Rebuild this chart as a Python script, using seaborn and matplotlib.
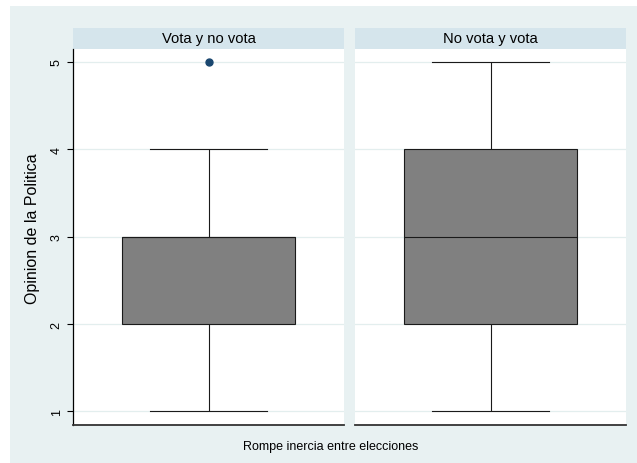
import numpy as np
import pandas as pd
import matplotlib
matplotlib.use("Agg")
import matplotlib.pyplot as plt
import seaborn as sns
from matplotlib.patches import Rectangle

# ---- data ----
panels = ["Vota y no vota", "No vota y vota"]
opinion_levels = [1, 2, 3, 4, 5]
counts_vota_no = [1, 3, 4, 1, 1]     # -> whisker 1, box 2-3, median 3, outlier 5
counts_no_vota = [1, 2, 3, 2, 1]     # -> whisker 1-5, box 2-4, median 3
y_ticks = [1, 2, 3, 4, 5]
x_title = "Rompe inercia entre elecciones"
y_title = "Opinion de la Politica"

df = pd.DataFrame({
    "grupo": np.repeat(panels, [sum(counts_vota_no), sum(counts_no_vota)]),
    "opinion": np.concatenate([np.repeat(opinion_levels, counts_vota_no),
                               np.repeat(opinion_levels, counts_no_vota)]),
})

plt.rcParams["font.family"] = ["Liberation Sans", "DejaVu Sans"]

W, H = 637, 464
fig = plt.figure(figsize=(W / 100, H / 100), dpi=100)
fig.patch.set_facecolor("white")

def fx(px):
    return px / W

def fy(py):
    return 1 - py / H

# outer graph region
fig.add_artist(Rectangle((fx(10), 0), 1 - fx(10), fy(7), transform=fig.transFigure,
                         facecolor="#e8f1f2", edgecolor="none", zorder=-10))

plot_top, plot_bot = 50, 425.5
strip_top = 29
panel_x = [(73, 344), (355, 626)]
ymin, ymax = 0.851, 5.149

for i, (p, (x0, x1)) in enumerate(zip(panels, panel_x)):
    ax = fig.add_axes([fx(x0), fy(plot_bot), fx(x1 - x0), (plot_bot - plot_top) / H])
    ax.set_facecolor("white")
    sub = df[df["grupo"] == p]
    sns.boxplot(data=sub, y="opinion", ax=ax, width=0.64, color="#808080",
                saturation=1, linecolor="#1a1a1a", linewidth=0.8, capwidths=0.43,
                flierprops=dict(marker="o", markerfacecolor="#1a476f",
                                markeredgecolor="#1a476f", markersize=5))
    ax.set_xlim(-0.5, 0.5)
    ax.set_ylim(ymin, ymax)
    ax.set_yticks(y_ticks)
    ax.set_xticks([])
    ax.set_xlabel("")
    ax.set_ylabel("")
    ax.grid(axis="y", color="#e3eeee", linewidth=0.9)
    ax.set_axisbelow(True)
    for s in ["top", "right"]:
        ax.spines[s].set_visible(False)
    ax.spines["bottom"].set_color("#333333")
    ax.spines["bottom"].set_linewidth(1.3)
    if i == 0:
        ax.spines["left"].set_color("black")
        ax.spines["left"].set_linewidth(0.9)
        ax.tick_params(axis="y", length=4.5, width=0.8, labelsize=9, pad=3,
                       labelrotation=90, color="black")
        for t in ax.get_yticklabels():
            t.set_va("center")
    else:
        ax.spines["left"].set_visible(False)
        ax.tick_params(axis="y", length=0, labelleft=False)
    # panel strip
    fig.add_artist(Rectangle((fx(x0), fy(plot_top)), fx(x1 - x0), (plot_top - strip_top) / H,
                             transform=fig.transFigure, facecolor="#d5e5ec",
                             edgecolor="none", zorder=-5))
    fig.text(fx((x0 + x1) / 2), fy((plot_top + strip_top) / 2), p,
             ha="center", va="center", fontsize=10.6, color="black")

fig.text(fx(331), fy(447), x_title, ha="center", va="center", fontsize=9)
fig.text(fx(32.5), fy(228.5), y_title, ha="center", va="center", rotation=90, fontsize=11.5)

fig.savefig("out.png", dpi=100)
